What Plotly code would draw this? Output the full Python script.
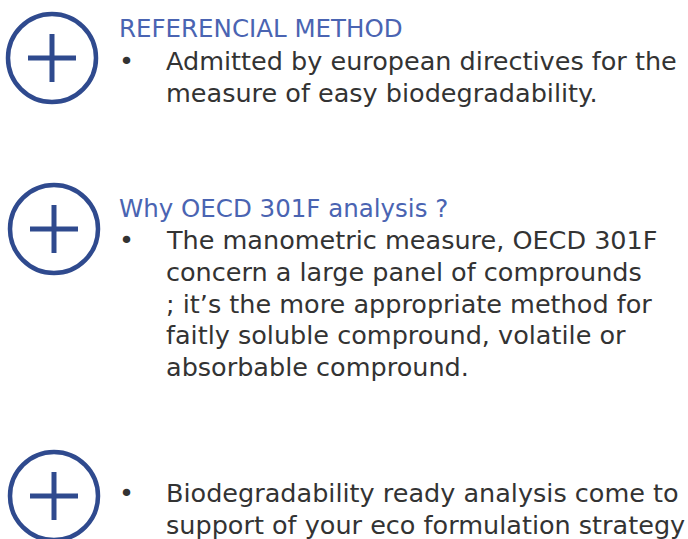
import plotly.graph_objects as go

W, H = 688, 539

# Content
titles = ["REFERENCIAL METHOD", "Why OECD 301F analysis ?", ""]
bullets = [
    ["Admitted by european directives for the",
     "measure of easy biodegradability."],
    ["The manometric measure, OECD 301F",
     "concern a large panel of comprounds",
     "; it\u2019s the more appropriate method for",
     "faitly soluble compround, volatile or",
     "absorbable compround."],
    ["Biodegradability ready analysis come to",
     "support of your eco formulation strategy"],
]

# Layout (pixel positions)
icon_centers = [(52, 58), (54, 229), (54, 496)]
icon_r = 44
title_y = [28, 208, None]
line_y0 = [61, 240, 493]
line_step = 31.8
title_x = 117
bullet_x = 126
text_x = 164

DARK_BLUE = "#2F4A8E"
TITLE_BLUE = "#4A64B2"
TEXT = "#333333"
FONT = "DejaVu Sans"
FS = 25.5
FS_T = 24.5

fig = go.Figure()
shapes = []
annotations = []
for i, (cx, cy) in enumerate(icon_centers):
    shapes.append(dict(type="circle", xref="x", yref="y",
                       x0=cx - icon_r, x1=cx + icon_r, y0=cy - icon_r, y1=cy + icon_r,
                       line=dict(color=DARK_BLUE, width=4.5)))
    shapes.append(dict(type="line", xref="x", yref="y", x0=cx - 24, x1=cx + 24, y0=cy, y1=cy,
                       line=dict(color=DARK_BLUE, width=5)))
    shapes.append(dict(type="line", xref="x", yref="y", x0=cx, x1=cx, y0=cy - 24, y1=cy + 24,
                       line=dict(color=DARK_BLUE, width=5)))
    if titles[i]:
        annotations.append(dict(x=title_x, y=title_y[i], xref="x", yref="y", text=titles[i],
                                showarrow=False, xanchor="left", yanchor="middle",
                                font=dict(family=FONT, size=FS_T, color=TITLE_BLUE)))
    for j, line in enumerate(bullets[i]):
        y = line_y0[i] + j * line_step
        if j == 0:
            annotations.append(dict(x=bullet_x, y=y, xref="x", yref="y", text="\u2022",
                                    showarrow=False, xanchor="center", yanchor="middle",
                                    font=dict(family=FONT, size=FS, color=TEXT)))
        annotations.append(dict(x=text_x, y=y, xref="x", yref="y", text=line,
                                showarrow=False, xanchor="left", yanchor="middle",
                                font=dict(family=FONT, size=FS, color=TEXT)))

fig.update_layout(
    width=W, height=H,
    margin=dict(l=0, r=0, t=0, b=0),
    paper_bgcolor="white", plot_bgcolor="white",
    xaxis=dict(range=[0, W], visible=False, fixedrange=True),
    yaxis=dict(range=[H, 0], visible=False, fixedrange=True),
    shapes=shapes, annotations=annotations, showlegend=False,
)
fig.write_html("out.html", config={"displayModeBar": False},
               post_script="document.body.style.margin='0';document.body.style.overflow='hidden';")
